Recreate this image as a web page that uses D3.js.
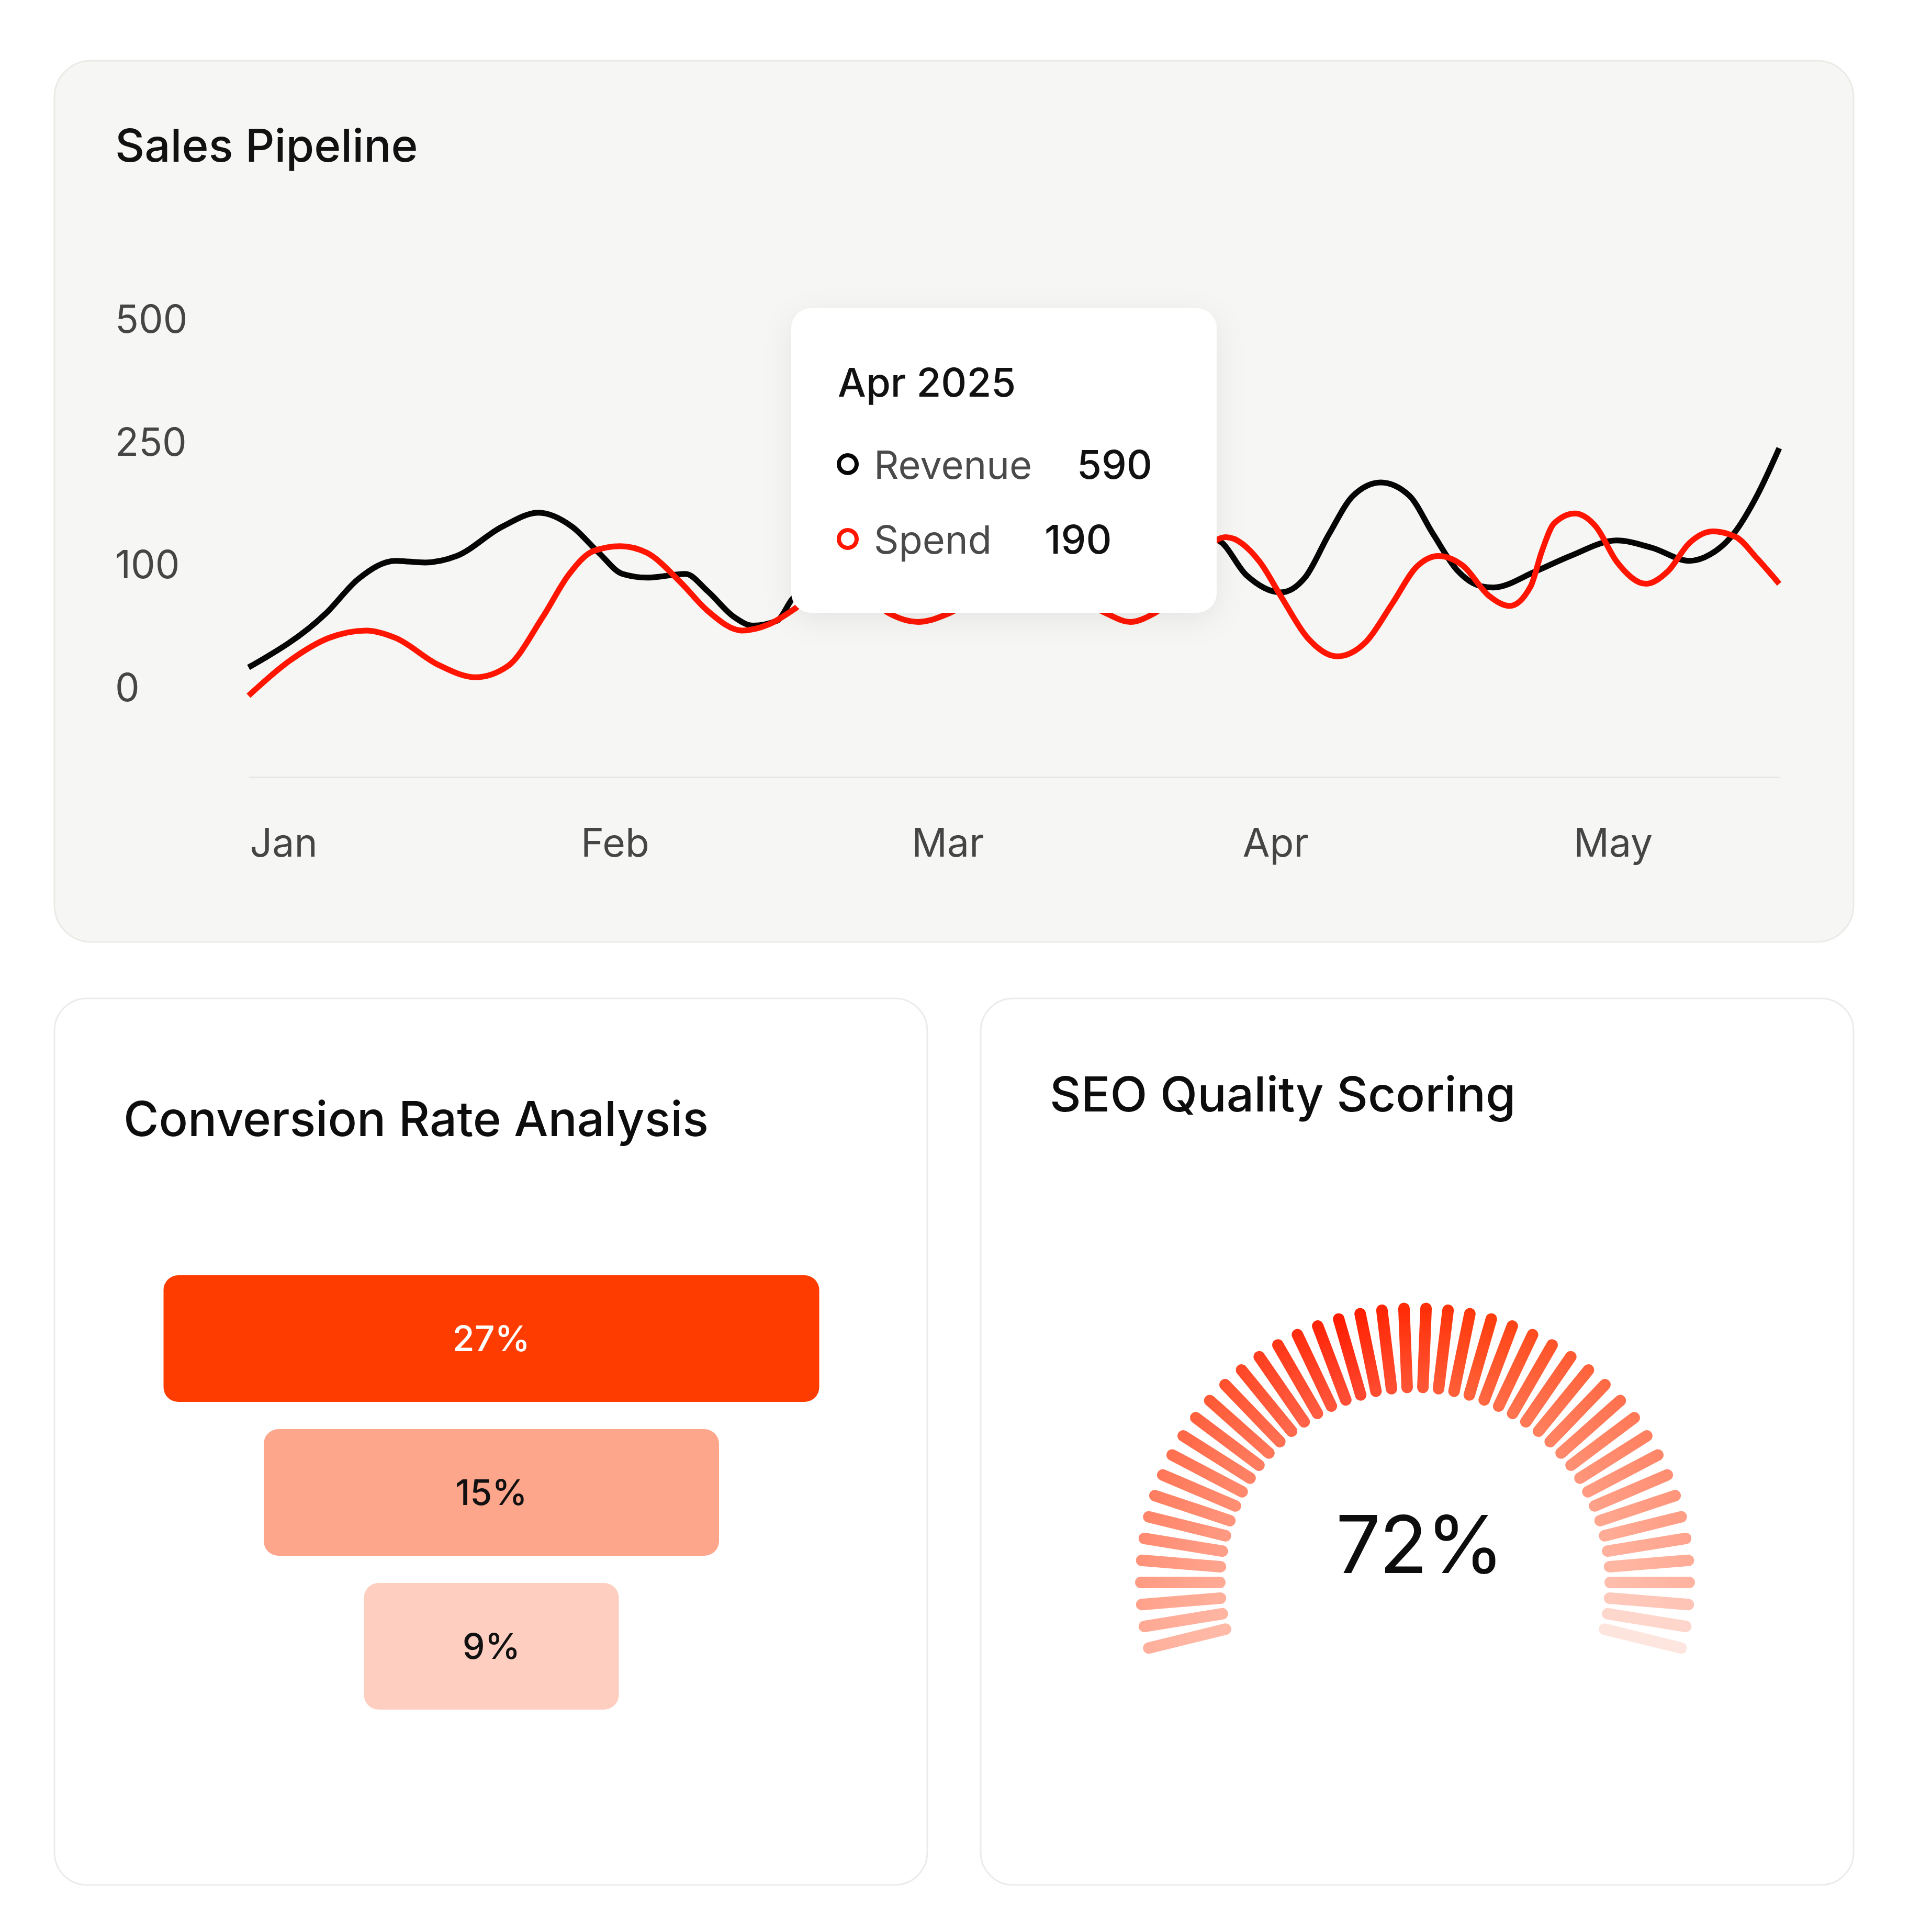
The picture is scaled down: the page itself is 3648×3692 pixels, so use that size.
<!DOCTYPE html>
<html lang="en">
<head>
    <meta charset="UTF-8">
    <title>Sales dashboard</title>
    <style>
        body { margin: 0; background: #fff; }
        text { font-family: Inter, "Noto Sans", sans-serif; }
    </style>
</head>
<body>
    <svg id="chart" width="3648" height="3692"></svg>
    <script src="https://cdn.jsdelivr.net/npm/d3@7"></script>
    <script>
        // ---------- data ----------
        const months = ["Jan", "Feb", "Mar", "Apr", "May"];
        const yTicks = [0, 100, 250, 500];

        // x is measured in months from the start of Jan
        const revenueX = [0, 0.234, 0.332, 0.444, 0.533, 0.629, 0.767, 0.876, 0.977, 1.058, 1.130, 1.203, 1.320, 1.387, 1.467, 1.524, 1.597, 1.641, 1.747, 1.874, 2.063, 2.332, 2.648, 2.930, 3.015, 3.119, 3.192, 3.265, 3.338, 3.421, 3.507, 3.579, 3.652, 3.725, 3.761, 3.888, 3.994, 4.134, 4.240, 4.354, 4.417, 4.487, 4.558, 4.625];
        const revenueY = [16, 60, 88, 104, 102, 110, 146, 163, 146, 114, 92, 89, 92, 78, 57, 50, 54, 71, 95, 118, 95, 124, 150, 129, 91, 77, 89, 137, 184, 200, 184, 137, 95, 82, 81, 94, 110, 129, 120, 104, 112, 137, 184, 242];
        const spendX = [0, 0.122, 0.243, 0.356, 0.444, 0.574, 0.686, 0.783, 0.889, 0.969, 1.042, 1.123, 1.203, 1.306, 1.387, 1.491, 1.572, 1.652, 1.794, 1.935, 2.024, 2.117, 2.348, 2.591, 2.664, 2.737, 2.953, 3.055, 3.119, 3.200, 3.289, 3.377, 3.456, 3.530, 3.595, 3.668, 3.749, 3.810, 3.874, 3.908, 3.945, 4.008, 4.071, 4.134, 4.223, 4.288, 4.354, 4.424, 4.495, 4.558, 4.625];
        const spendY = [-7, 21, 40, 46, 40, 18, 8, 17, 57, 92, 116, 122, 114, 85, 62, 46, 51, 64, 95, 60, 53, 60, 108, 60, 53, 60, 133, 103, 74, 40, 25, 37, 68, 98, 110, 99, 74, 66, 82, 116, 150, 162, 146, 103, 84, 94, 126, 140, 133, 107, 84];

        const tooltipTitle = "Apr 2025";
        const tooltipNames = ["Revenue", "Spend"];
        const tooltipValues = [590, 190];

        const funnelValues = [27, 15, 9];

        const seoScore = 72;
        const gaugeTickCount = 46;

        // ---------- styles ----------
        const lineColors = ["#050505", "#ff1500"];
        const funnelColors = ["#ff3c00", "#fea68b", "#fecfc1"];
        const funnelText = ["#ffffff", "#111111", "#111111"];

        const svg = d3.select("#chart");
        const defs = svg.append("defs");

        const shadow = defs.append("filter")
            .attr("id", "tipShadow")
            .attr("x", "-20%").attr("y", "-20%")
            .attr("width", "140%").attr("height", "150%");
        shadow.append("feDropShadow")
            .attr("dx", 0).attr("dy", 14)
            .attr("stdDeviation", 28)
            .attr("flood-color", "#000")
            .attr("flood-opacity", 0.07);

        // ---------- cards ----------
        svg.append("rect")
            .attr("x", 104).attr("y", 116)
            .attr("width", 3438).attr("height", 1684)
            .attr("rx", 70)
            .attr("fill", "#f6f6f4")
            .attr("stroke", "#eaeae7")
            .attr("stroke-width", 3);

        [104, 1874].forEach(x0 => {
            svg.append("rect")
                .attr("x", x0).attr("y", 1908)
                .attr("width", 1668).attr("height", 1694)
                .attr("rx", 62)
                .attr("fill", "#fff")
                .attr("stroke", "#ebebeb")
                .attr("stroke-width", 3);
        });

        // ---------- sales pipeline ----------
        svg.append("text")
            .attr("x", 220).attr("y", 309)
            .attr("font-size", 87).attr("font-weight", 500)
            .attr("fill", "#111")
            .text("Sales Pipeline");

        const x = d3.scaleLinear()
            .domain([0, d3.max(revenueX)])
            .range([475, 3400]);

        const y = d3.scaleLinear()
            .domain(yTicks)
            .range([1313, 1078, 844, 609]);

        svg.append("g")
            .attr("transform", "translate(220,0)")
            .call(d3.axisLeft(y).tickValues(yTicks).tickSize(0))
            .call(g => g.select(".domain").remove())
            .call(g => g.selectAll("text")
                .attr("x", 0).attr("dy", "0.36em")
                .attr("text-anchor", "start")
                .attr("font-family", "Inter, sans-serif")
                .attr("font-size", 74)
                .attr("fill", "#454545"));

        svg.append("g")
            .attr("transform", "translate(0,1485)")
            .call(d3.axisBottom(x)
                .tickValues(d3.range(months.length))
                .tickFormat(i => months[i])
                .tickSize(0).tickSizeOuter(0))
            .call(g => g.select(".domain")
                .attr("stroke", "#e6e6e3")
                .attr("stroke-width", 3))
            .call(g => g.selectAll("text")
                .attr("x", 2).attr("y", 152).attr("dy", 0)
                .attr("text-anchor", "start")
                .attr("font-family", "Inter, sans-serif")
                .attr("font-size", 75)
                .attr("fill", "#454545"));

        const line = d3.line()
            .x(d => x(d[0]))
            .y(d => y(d[1]))
            .curve(d3.curveMonotoneX);

        const series = [
            d3.zip(revenueX, revenueY),
            d3.zip(spendX, spendY)
        ];

        svg.append("g")
            .selectAll("path")
            .data(series)
            .join("path")
            .attr("d", line)
            .attr("fill", "none")
            .attr("stroke", (d, i) => lineColors[i])
            .attr("stroke-width", 11)
            .attr("stroke-linejoin", "round");

        // tooltip
        const tip = svg.append("g").attr("transform", "translate(1512,589)");
        tip.append("rect")
            .attr("width", 813).attr("height", 582)
            .attr("rx", 38)
            .attr("fill", "#fff")
            .attr("filter", "url(#tipShadow)");
        tip.append("text")
            .attr("x", 89).attr("y", 169)
            .attr("font-size", 76).attr("font-weight", 500)
            .attr("fill", "#111")
            .text(tooltipTitle);

        const valueX = [546, 484];
        const rows = tip.selectAll("g.row")
            .data(tooltipNames)
            .join("g")
            .attr("class", "row")
            .attr("transform", (d, i) => `translate(0,${326 + i * 143})`);
        rows.append("circle")
            .attr("cx", 108).attr("cy", -28)
            .attr("r", 17)
            .attr("fill", "#fff")
            .attr("stroke", (d, i) => lineColors[i])
            .attr("stroke-width", 8);
        rows.append("text")
            .attr("x", 158)
            .attr("font-size", 74)
            .attr("fill", "#4a4a4a")
            .text(d => d);
        rows.append("text")
            .attr("x", (d, i) => valueX[i])
            .attr("font-size", 76).attr("font-weight", 500)
            .attr("fill", "#111")
            .text((d, i) => tooltipValues[i]);

        // ---------- conversion funnel ----------
        svg.append("text")
            .attr("x", 236).attr("y", 2171)
            .attr("font-size", 92).attr("font-weight", 500)
            .attr("fill", "#0d0d0d")
            .text("Conversion Rate Analysis");

        const fy = d3.scaleBand()
            .domain(d3.range(funnelValues.length))
            .range([2437, 3267])
            .paddingInner(0.177);
        const fw = d3.scaleLinear()
            .domain([0, funnelValues.length - 1])
            .range([1253, 487]);
        const funnelCx = 939;

        const bars = svg.append("g")
            .selectAll("g")
            .data(funnelValues)
            .join("g");
        bars.append("rect")
            .attr("x", (d, i) => funnelCx - fw(i) / 2)
            .attr("y", (d, i) => fy(i))
            .attr("width", (d, i) => fw(i))
            .attr("height", fy.bandwidth())
            .attr("rx", 28)
            .attr("fill", (d, i) => funnelColors[i]);
        bars.append("text")
            .attr("x", funnelCx)
            .attr("y", (d, i) => fy(i) + fy.bandwidth() / 2)
            .attr("dy", "0.36em")
            .attr("text-anchor", "middle")
            .attr("font-size", 68).attr("font-weight", 500)
            .attr("fill", (d, i) => funnelText[i])
            .text(d => `${d}%`);

        // ---------- SEO gauge ----------
        svg.append("text")
            .attr("x", 2006).attr("y", 2124)
            .attr("font-size", 92.5).attr("font-weight", 500)
            .attr("fill", "#0d0d0d")
            .text("SEO Quality Scoring");

        const gcx = 2704, gcy = 3024, rIn = 373, rOut = 524;
        const sweep = 22.5 * 90 / 19.5;
        const angle = d3.scaleLinear()
            .domain([0, gaugeTickCount - 1])
            .range([-sweep, sweep]);
        const tickColor = d3.scaleLinear()
            .domain([0, 12, 19, 26, 42, 45])
            .range(["#ffb09c", "#ff5a36", "#ff1c00", "#ff3e0e", "#ffb3a0", "#fde6df"])
            .interpolate(d3.interpolateRgb);

        const ticks = d3.range(gaugeTickCount).map(i => {
            const a = angle(i) * Math.PI / 180;
            return {
                i,
                x1: gcx + rOut * Math.sin(a), y1: gcy - rOut * Math.cos(a),
                x2: gcx + rIn * Math.sin(a), y2: gcy - rIn * Math.cos(a),
                c: tickColor(i)
            };
        });

        defs.selectAll("linearGradient")
            .data(ticks)
            .join("linearGradient")
            .attr("id", d => `gt${d.i}`)
            .attr("gradientUnits", "userSpaceOnUse")
            .attr("x1", d => d.x1).attr("y1", d => d.y1)
            .attr("x2", d => d.x2).attr("y2", d => d.y2)
            .call(g => g.append("stop").attr("offset", 0).attr("stop-color", d => d.c))
            .call(g => g.append("stop").attr("offset", 1)
                .attr("stop-color", d => d3.interpolateRgb(d.c, "#ffe0d4")(0.22)));

        svg.append("g")
            .selectAll("line")
            .data(ticks)
            .join("line")
            .attr("x1", d => d.x1).attr("y1", d => d.y1)
            .attr("x2", d => d.x2).attr("y2", d => d.y2)
            .attr("stroke", d => `url(#gt${d.i})`)
            .attr("stroke-width", 22)
            .attr("stroke-linecap", "round");

        svg.append("text")
            .attr("x", 2712).attr("y", 3006)
            .attr("text-anchor", "middle")
            .attr("font-size", 152)
            .attr("letter-spacing", -3)
            .attr("fill", "#0d0d0d")
            .text(`${seoScore}%`);
    </script>
</body>
</html>
